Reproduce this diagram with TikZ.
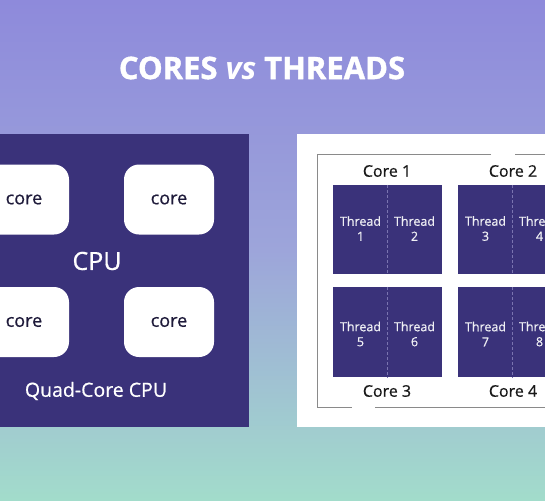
\documentclass[tikz,border=0pt]{standalone}
\usepackage{fontspec}
\setmainfont{Open Sans}
\newfontfamily\medfont{Open Sans}[FakeBold=0.6]
\newfontfamily\titlefont{Open Sans}[BoldFeatures={FakeBold=1.2}]
\definecolor{bgtop}{HTML}{8E8ADB}
\definecolor{bgmid}{HTML}{9DA5DA}
\definecolor{bgbot}{HTML}{A2DCCB}
\definecolor{panel}{HTML}{3A327A}
\definecolor{coretext}{HTML}{1E1A3A}
\definecolor{frame}{HTML}{8A8A8A}
\definecolor{divider}{HTML}{7A74B0}
\begin{document}
\begin{tikzpicture}[x=1pt,y=-1pt,
  darkpanel/.style={fill=panel,draw=none,inner sep=0pt},
  corebox/.style={fill=white,draw=none,rounded corners=15pt,minimum width=90pt,minimum height=70pt,inner sep=0pt,text=coretext,font=\medfont\fontsize{18}{20}\selectfont},
  threadbox/.style={fill=panel,draw=none,minimum width=109pt,minimum height=90pt,inner sep=0pt},
  threadlbl/.style={text=white!92!panel,align=center,font=\medfont\fontsize{12.5}{15}\selectfont,inner sep=0pt},
  corelbl/.style={text=black!90,font=\medfont\fontsize{16}{18}\selectfont,inner sep=0pt},
  divline/.style={draw=divider,line width=0.6pt,dash pattern=on 3pt off 2pt}]
\useasboundingbox (0,0) rectangle (545,500);
\clip (0,0) rectangle (545,500);
\shade[top color=bgtop,bottom color=bgmid] (0,0) rectangle (545,251);
\shade[top color=bgmid,bottom color=bgbot] (0,250) rectangle (545,500);
% title
\node[text=white,font=\titlefont\fontsize{31}{34}\bfseries\selectfont] (title) at (262,68) {CORES \textit{vs} THREADS};
% left panel
\node[darkpanel,minimum width=259pt,minimum height=293pt] (cpupanel) at (119.5,280.5) {};
\node[corebox] (c1) at (24,199.5) {core};
\node[corebox] (c2) at (169,199.5) {core};
\node[corebox] (c3) at (24,322) {core};
\node[corebox] (c4) at (169,322) {core};
\node[text=white,font=\medfont\fontsize{25}{28}\selectfont] (cpu) at (97,261) {CPU};
\node[text=white,font=\medfont\fontsize{19.5}{22}\selectfont] (quad) at (96,391) {Quad-Core CPU};
% right panel
\node[fill=white,draw=none,minimum width=263pt,minimum height=293pt,inner sep=0pt] (tpanel) at (428.5,280.5) {};
\draw[frame,line width=0.9pt] (491,154) -- (317,154) -- (317,407) -- (352,407);
\draw[frame,line width=0.9pt] (375,407) -- (560,407);
\draw[frame,line width=0.9pt] (515,154) -- (560,154);
% thread boxes
\node[threadbox,minimum height=89pt] (k1) at (387.5,229.5) {};
\node[threadbox,minimum height=89pt] (k2) at (512.5,229.5) {};
\node[threadbox] (k3) at (387.5,332) {};
\node[threadbox] (k4) at (512.5,332) {};
\foreach \k in {k1,k2,k3,k4} {\draw[divline] (\k.north) -- (\k.south);}
\node[threadlbl] (t1) at ([xshift=-27pt,yshift=1pt]k1.center) {Thread\\1};
\node[threadlbl] (t2) at ([xshift=27pt,yshift=1pt]k1.center) {Thread\\2};
\node[threadlbl] (t3) at ([xshift=-27pt,yshift=1pt]k2.center) {Thread\\3};
\node[threadlbl] (t4) at ([xshift=27pt,yshift=1pt]k2.center) {Thread\\4};
\node[threadlbl] (t5) at ([xshift=-27pt,yshift=-2pt]k3.center) {Thread\\5};
\node[threadlbl] (t6) at ([xshift=27pt,yshift=-2pt]k3.center) {Thread\\6};
\node[threadlbl] (t7) at ([xshift=-27pt,yshift=-2pt]k4.center) {Thread\\7};
\node[threadlbl] (t8) at ([xshift=27pt,yshift=-2pt]k4.center) {Thread\\8};
\node[corelbl] (l1) at (387,171) {Core 1};
\node[corelbl] (l2) at (513,171) {Core 2};
\node[corelbl] (l3) at (387,391) {Core 3};
\node[corelbl] (l4) at (513,391) {Core 4};
\end{tikzpicture}
\end{document}
